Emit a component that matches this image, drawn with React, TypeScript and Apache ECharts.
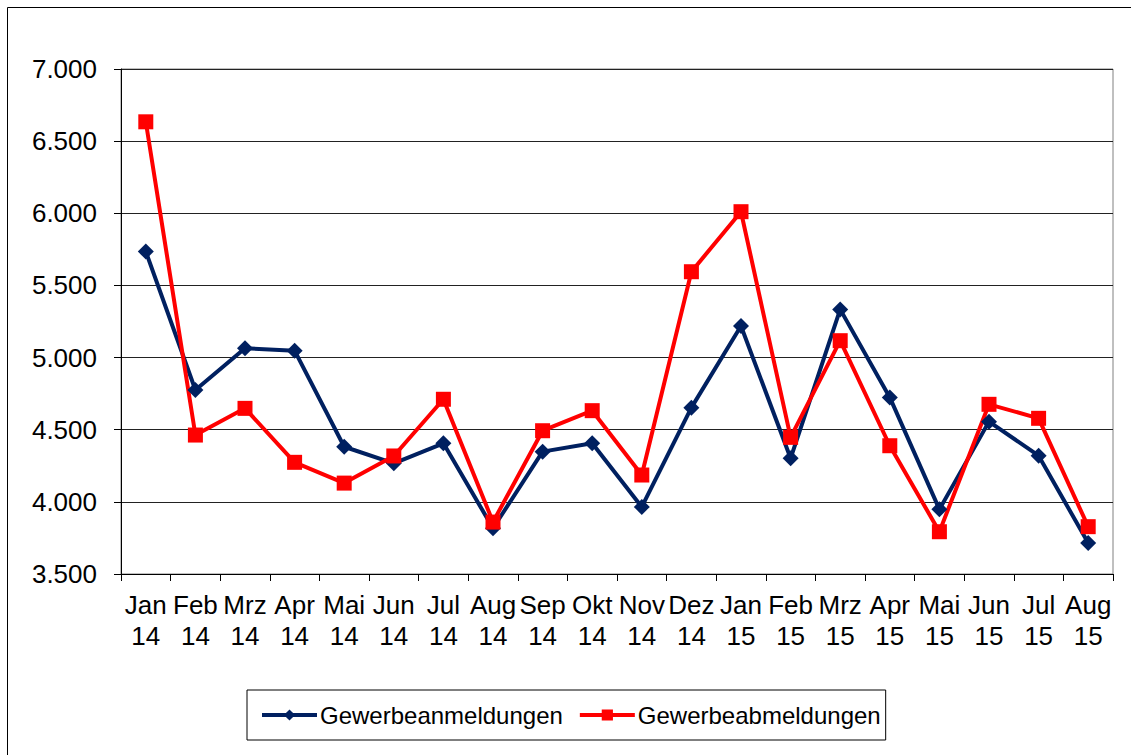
import React, { useEffect, useRef } from "react";
import * as echarts from "echarts";

const categories = [
  "Jan\n14", "Feb\n14", "Mrz\n14", "Apr\n14", "Mai\n14", "Jun\n14", "Jul\n14", "Aug\n14",
  "Sep\n14", "Okt\n14", "Nov\n14", "Dez\n14", "Jan\n15", "Feb\n15", "Mrz\n15", "Apr\n15",
  "Mai\n15", "Jun\n15", "Jul\n15", "Aug\n15",
];
const anmeldungen = [
  5735, 4775, 5065, 5048, 4382, 4267, 4406, 3817, 4348, 4406,
  3965, 4653, 5219, 4302, 5334, 4724, 3948, 4556, 4320, 3715,
];
const abmeldungen = [
  6634, 4463, 4648, 4274, 4130, 4318, 4711, 3860, 4493, 4632,
  4186, 5595, 6011, 4447, 5117, 4389, 3793, 4676, 4579, 3828,
];
const seriesNames = ["Gewerbeanmeldungen", "Gewerbeabmeldungen"];

export default function App() {
  const ref = useRef<HTMLDivElement>(null);
  useEffect(() => {
    document.body.style.margin = "0";
    const chart = echarts.init(ref.current!, null, { renderer: "svg" });
    const font = "'Liberation Sans', Arial, sans-serif";
    chart.setOption({
      animation: false,
      backgroundColor: "#fff",
      textStyle: { fontFamily: font },
      graphic: [
        {
          type: "rect",
          shape: { x: 7.5, y: 7.5, width: 1300, height: 900 },
          style: { fill: "none", stroke: "#000", lineWidth: 1 },
          silent: true,
        },
      ],
      grid: {
        left: 121,
        top: 69,
        right: 18,
        bottom: 181,
        show: true,
        borderColor: "#808080",
        borderWidth: 1,
      },
      legend: {
        left: 247,
        top: 690,
        data: seriesNames,
        borderColor: "#000",
        borderWidth: 1,
        padding: [13, 5, 13, 13],
        itemGap: 15,
        itemWidth: 55,
        itemHeight: 14,
        lineStyle: { width: 4 },
        textStyle: { fontSize: 24, color: "#000", fontFamily: font, padding: [0, 0, 0, -2] },
      },
      xAxis: {
        type: "category",
        data: categories,
        boundaryGap: true,
        axisLine: { lineStyle: { color: "#000", width: 1 } },
        axisTick: { show: true, length: 7, lineStyle: { color: "#000" } },
        axisLabel: {
          interval: 0,
          fontSize: 26,
          lineHeight: 31,
          color: "#000",
          margin: 15,
          fontFamily: font,
        },
        splitLine: { show: false },
      },
      yAxis: {
        type: "value",
        min: 3500,
        max: 7000,
        interval: 500,
        axisLine: { show: true, lineStyle: { color: "#000", width: 1 } },
        axisTick: { show: true, length: 7, lineStyle: { color: "#000" } },
        axisLabel: {
          fontSize: 26,
          color: "#000",
          margin: 24,
          fontFamily: font,
          formatter: (v: number) => {
            const s = String(Math.round(v));
            return s.length > 3 ? s.slice(0, s.length - 3) + "." + s.slice(-3) : s;
          },
        },
        splitLine: { show: true, lineStyle: { color: "#222", width: 1 } },
      },
      series: [
        {
          name: seriesNames[0],
          type: "line",
          data: anmeldungen,
          symbol: "diamond",
          symbolSize: 16,
          itemStyle: { color: "#002060" },
          lineStyle: { color: "#002060", width: 4 },
        },
        {
          name: seriesNames[1],
          type: "line",
          data: abmeldungen,
          symbol: "rect",
          symbolSize: 15,
          itemStyle: { color: "#FF0000" },
          lineStyle: { color: "#FF0000", width: 4 },
        },
      ],
    });
    return () => chart.dispose();
  }, []);
  return <div ref={ref} style={{ width: 1131, height: 755 }} />;
}
